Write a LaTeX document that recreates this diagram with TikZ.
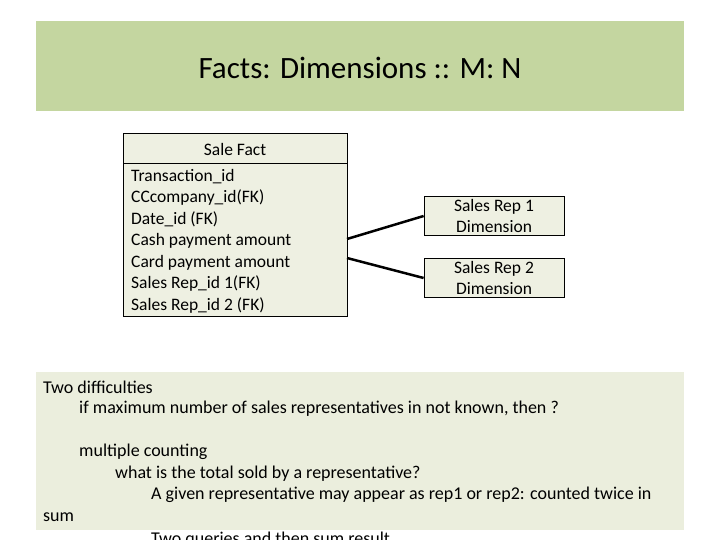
\documentclass[tikz,border=0pt]{standalone}
\usepackage{fontspec}
\setmainfont{Carlito}
\definecolor{titlebg}{HTML}{C4D6A0}
\definecolor{boxbg}{HTML}{EEF0E2}
\definecolor{notebg}{HTML}{EBEEDD}
\begin{document}
\begin{tikzpicture}[x=1pt,y=-1pt,
  tbl/.style={draw=black, line width=0.8pt, fill=boxbg},
  rowtxt/.style={anchor=west, inner sep=0pt, font=\fontsize{17.5}{20}\selectfont},
  dimbox/.style={draw=black, line width=0.8pt, fill=boxbg, minimum width=140pt, minimum height=39pt, align=center, inner sep=0pt, font=\fontsize{17.5}{21}\selectfont},
  link/.style={line width=2.5pt},
  notetxt/.style={anchor=west, inner sep=0pt, font=\fontsize{18}{20}\selectfont}]
\useasboundingbox (0,0) rectangle (720,540);
\clip (0,0) rectangle (720,540);
\fill[white] (0,0) rectangle (720,540);
% title bar
\node[fill=titlebg, minimum width=648pt, minimum height=90pt, inner sep=0pt, anchor=north west] (title) at (36,21) {};
\node[font=\fontsize{31}{36}\selectfont] (titletxt) at (360,68) {Facts: Dimensions :: M: N};
% fact table
\node[tbl, minimum width=224pt, minimum height=183pt, inner sep=0pt, anchor=north west] (fact) at (123,133) {};
\draw[line width=0.8pt] (123,163) -- (347,163);
\node[inner sep=0pt, font=\fontsize{17.5}{20}\selectfont] (facthead) at (235,149) {Sale Fact};
\node[rowtxt] (r1) at (131,176.5) {Transaction\_id};
\node[rowtxt] (r2) at (131,198) {CCcompany\_id(FK)};
\node[rowtxt] (r3) at (131,219.5) {Date\_id (FK)};
\node[rowtxt] (r4) at (131,241) {Cash payment amount};
\node[rowtxt] (r5) at (131,262.5) {Card payment amount};
\node[rowtxt] (r6) at (131,284) {Sales Rep\_id 1(FK)};
\node[rowtxt] (r7) at (131,305.5) {Sales Rep\_id 2 (FK)};
% dimensions
\node[dimbox] (rep1) at (494,215.5) {Sales Rep 1\\Dimension};
\node[dimbox] (rep2) at (494,277.5) {Sales Rep 2\\Dimension};
\coordinate (a1) at (347,239);
\coordinate (a2) at (347,258);
\draw[link] (a1) -- (rep1.west |- 0,216);
\draw[link] (a2) -- (rep2.west |- 0,278);
% notes box
\node[fill=notebg, minimum width=648pt, minimum height=158pt, inner sep=0pt, anchor=north west] (notes) at (36,372) {};
\node[notetxt] (n1) at (43,387) {Two difficulties};
\node[notetxt] (n2) at (79,409) {if maximum number of sales representatives in not known, then ?};
\node[notetxt] (n3) at (79,452) {multiple counting};
\node[notetxt] (n4) at (115,474) {what is the total sold by a representative?};
\node[notetxt] (n5) at (151,495) {A given representative may appear as rep1 or rep2: counted twice in};
\node[notetxt] (n6) at (43,517) {sum};
\node[notetxt] (n7) at (151,540) {Two queries and then sum result};
\end{tikzpicture}
\end{document}
